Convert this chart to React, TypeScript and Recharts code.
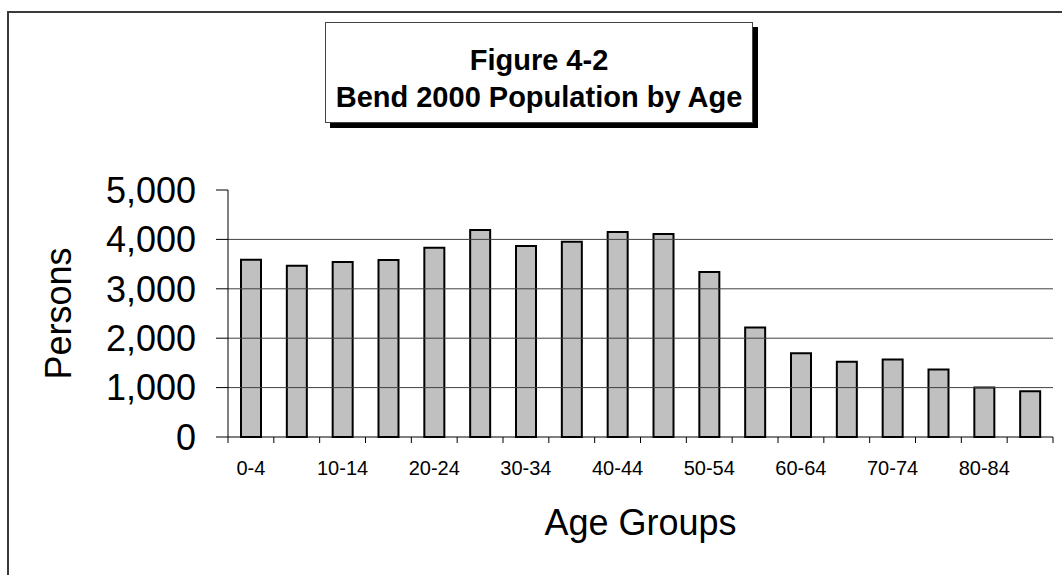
import React from 'react';
import { BarChart, Bar, XAxis, YAxis, ReferenceLine } from 'recharts';

const ageGroups = ['0-4', '5-9', '10-14', '15-19', '20-24', '25-29', '30-34', '35-39', '40-44', '45-49', '50-54', '55-59', '60-64', '65-69', '70-74', '75-79', '80-84', '85+'];
const persons = [3590, 3465, 3545, 3585, 3830, 4190, 3865, 3950, 4150, 4110, 3340, 2215, 1695, 1525, 1570, 1365, 1000, 925];
const yTicks = [0, 1000, 2000, 3000, 4000, 5000];
const gridValues = [1000, 2000, 3000, 4000];

const data = ageGroups.map((group, i) => ({ group, persons: persons[i] }));

const FONT = '"Liberation Sans", Arial, sans-serif';

// category ticks sit on the band edges, labels on every other band centre
const AgeTick = (props: any) => {
  const { x, y, payload, index } = props;
  const half = payload.offset || 0;
  const last = index === ageGroups.length - 1;
  return (
    <g>
      <line x1={x - half} x2={x - half} y1={y} y2={y + 6} stroke="#000" strokeWidth={1} />
      {last && <line x1={x + half} x2={x + half} y1={y} y2={y + 6} stroke="#000" strokeWidth={1} />}
      {index % 2 === 0 && (
        <text x={x} y={y + 38} textAnchor="middle" fontSize={20} fontFamily={FONT} fill="#000">
          {payload.value}
        </text>
      )}
    </g>
  );
};

const App: React.FC = () => {
  return (
    <div style={{ position: 'absolute', left: 0, top: 0, width: 1062, height: 575, overflow: 'hidden', background: '#fff', fontFamily: FONT }}>
      <div style={{ position: 'absolute', left: 7, top: 11, width: 1100, height: 620, border: '2px solid #3a3a3a', boxSizing: 'border-box' }} />

      <BarChart
        width={1062}
        height={575}
        data={data}
        margin={{ top: 190, right: 9, left: 28, bottom: 38 }}
        style={{ position: 'absolute', left: 0, top: 0 }}
      >
        {gridValues.map(v => (
          <ReferenceLine key={v} y={v} stroke="#404040" strokeWidth={1} ifOverflow="visible" />
        ))}
        <XAxis
          dataKey="group"
          interval={0}
          height={100}
          tickLine={false}
          tickSize={0}
          tickMargin={0}
          axisLine={{ stroke: '#000', strokeWidth: 1 }}
          tick={<AgeTick />}
          label={{ value: 'Age Groups', position: 'insideBottom', offset: 2, fontSize: 36, fill: '#000', fontFamily: FONT }}
        />
        <YAxis
          width={200}
          domain={[0, 5000]}
          ticks={yTicks}
          interval={0}
          tickSize={12}
          tickMargin={20}
          tickFormatter={(v: number) => v.toLocaleString('en-US')}
          tick={{ fontSize: 36, fill: '#000', fontFamily: FONT }}
          tickLine={{ stroke: '#000' }}
          axisLine={{ stroke: '#000', strokeWidth: 1 }}
          label={{ value: 'Persons', angle: -90, position: 'insideLeft', offset: 30, fontSize: 36, fill: '#000', fontFamily: FONT, style: { textAnchor: 'middle' } }}
        />
        <Bar dataKey="persons" fill="#c0c0c0" stroke="#000" strokeWidth={2} barSize={20} isAnimationActive={false} />
      </BarChart>

      <div
        style={{
          position: 'absolute',
          left: 325,
          top: 22,
          width: 428,
          height: 101,
          boxSizing: 'border-box',
          border: '1px solid #444',
          background: '#fff',
          boxShadow: '5px 5px 0 #000',
          paddingTop: 19,
          textAlign: 'center',
          fontWeight: 'bold',
          fontSize: 29,
          lineHeight: '37px',
          color: '#000',
        }}
      >
        <div>Figure 4-2</div>
        <div>Bend 2000 Population by Age</div>
      </div>
    </div>
  );
};

export default App;
